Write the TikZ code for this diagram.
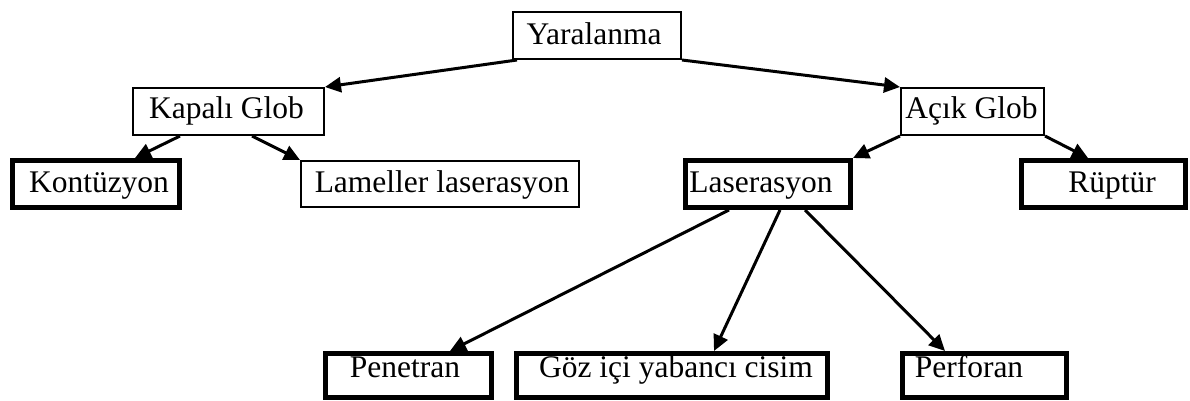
\documentclass[tikz,border=0pt]{standalone}
\usepackage{fontspec}
\setmainfont{Liberation Serif}
\usetikzlibrary{arrows.meta}
\begin{document}
\begin{tikzpicture}[x=1pt,y=-1pt,
  font=\fontsize{31.5}{36}\selectfont,
  thinbox/.style={draw=black,line width=1.8pt,rectangle,inner sep=0pt,anchor=north west,fill=white},
  thickbox/.style={draw=black,line width=4.8pt,rectangle,inner sep=0pt,anchor=north west,fill=white},
  conn/.style={line width=3pt,-{Triangle[length=16pt,width=15pt]}}]
\useasboundingbox (0,0) rectangle (1190,401);
% level 0
\node[thinbox,minimum width=168.2pt,minimum height=47.2pt,text height=33.1pt,text depth=14.1pt] (yar) at (512,11) {\kern-3pt Yaralanma\kern3pt};
% level 1
\node[thinbox,minimum width=191.2pt,minimum height=47.2pt,text height=30.1pt,text depth=17.1pt] (kap) at (132,87) {\kern-2pt Kapalı Glob\kern2pt};
\node[thinbox,minimum width=143.2pt,minimum height=47.2pt,text height=30.1pt,text depth=17.1pt] (acik) at (900,87) {\kern-1pt Açık Glob\kern1pt};
% level 2
\node[thickbox,minimum width=167.2pt,minimum height=47.2pt,text height=31.6pt,text depth=15.6pt] (kon) at (10,158) {\kern3pt Kontüzyon\kern-3pt};
\node[thinbox,minimum width=278.2pt,minimum height=46.2pt,text height=31.1pt,text depth=15.1pt] (lam) at (300,160) {\kern2pt Lameller laserasyon\kern-2pt};
\node[thickbox,minimum width=165.2pt,minimum height=47.2pt,text height=31.6pt,text depth=15.6pt] (las) at (683,158) {\kern-7pt Laserasyon\kern7pt};
\node[thickbox,minimum width=164.2pt,minimum height=47.2pt,text height=31.6pt,text depth=15.6pt] (rup) at (1019,158) {\kern8.5pt Rüptür\kern-8.5pt};
% level 3
\node[thickbox,minimum width=166.2pt,minimum height=44.2pt,text height=23.6pt,text depth=20.6pt] (pen) at (323,351) {\kern-3.5pt Penetran\kern3.5pt};
\node[thickbox,minimum width=311.2pt,minimum height=44.2pt,text height=23.6pt,text depth=20.6pt] (goz) at (514,351) {\kern4pt Göz içi yabancı cisim\kern-4pt};
\node[thickbox,minimum width=164.2pt,minimum height=44.2pt,text height=23.6pt,text depth=20.6pt] (per) at (900,351) {\kern-15.5pt Perforan\kern15.5pt};
% connectors
\draw[conn] ([xshift=5pt]yar.south west) -- (kap.north east);
\draw[conn] (yar.south east) -- (acik.north west);
\draw[conn] ([xshift=48pt]kap.south west) -- ([xshift=125pt]kon.north west);
\draw[conn] ([xshift=120pt]kap.south west) -- (lam.north west);
\draw[conn] (acik.south west) -- (las.north east);
\draw[conn] (acik.south east) -- ([xshift=69pt]rup.north west);
\draw[conn] ([xshift=46pt]las.south west) -- ([xshift=127pt]pen.north west);
\draw[conn] ([xshift=97pt]las.south west) -- ([xshift=200pt]goz.north west);
\draw[conn] ([xshift=122pt]las.south west) -- ([xshift=45pt]per.north west);
\end{tikzpicture}
\end{document}
